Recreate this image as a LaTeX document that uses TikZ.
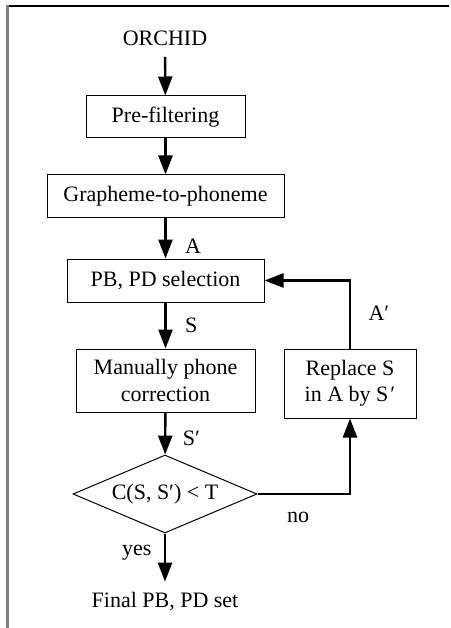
\documentclass[tikz,border=0pt]{standalone}
\usepackage{fontspec}
\setmainfont{Liberation Serif}
\usepackage{tikz}
\usetikzlibrary{arrows.meta, positioning, shapes.geometric}
\definecolor{framegray}{RGB}{128, 128, 128}

\begin{document}
\begin{tikzpicture}[
    x=1pt, y=-1pt,
    every node/.style={font=\fontsize{22}{26.4}\selectfont},
    box/.style={rectangle, draw, line width=1pt, inner sep=2pt, align=center},
    term/.style={inner sep=0pt, outer sep=11pt},
    arrow/.style={-{Triangle[length=19pt, width=14pt]}, line width=2.4pt},
    decision/.style={diamond, draw, line width=1pt, aspect=2.4, inner sep=1pt, minimum width=184pt, minimum height=78pt}
]
    \useasboundingbox (0,0) rectangle (450,628);
    % Frame
    \draw[line width=2pt] (7,6) -- (449,6);
    \draw[framegray, line width=3pt] (7,5) -- (7,628);

    % Main column
    \node[term] (orchid) at (165,38.5) {ORCHID};
    \node[box, minimum width=159pt, minimum height=42pt] (prefilt) at (165.5,117) {Pre-filtering};
    \node[box, minimum width=237pt, minimum height=42pt] (g2p) at (165.5,196) {Grapheme-to-phoneme};
    \node[box, minimum width=197pt, minimum height=43pt] (select) at (165.5,280.5) {PB, PD selection};
    \node[box, minimum width=179pt, minimum height=63pt] (manual) at (165.5,380.5) {Manually phone\\correction};
    \node[decision] (check) at (165,494) {C(S, S′) < T};
    \node[term] (final) at (165,602) {Final PB, PD set};

    % Feedback column
    \node[box, minimum width=132pt, minimum height=69pt] (replace) at (350,383.5) {Replace S\\in A by S\kern2pt′};

    % Arrows
    \draw[arrow] (orchid) -- (prefilt);
    \draw[arrow] (prefilt) -- (g2p);
    \draw[arrow] (g2p) -- node[pos=0.7, right=15pt] {A} (select);
    \draw[arrow] (select) -- node[pos=0.5, right=15pt] {S} (manual);
    \draw[arrow] (manual) -- node[pos=0.62, right=13pt] {S′} (check);
    \draw[arrow] (check) -- node[pos=0.4, left=9pt] {yes} (final);
    \draw[arrow] (check.east) -| node[pos=0.22, below=14pt] {no} (replace.south);
    \draw[arrow] (replace.north) |- node[pos=0.26, right=14pt] {A′} (select.east);
\end{tikzpicture}
\end{document}
